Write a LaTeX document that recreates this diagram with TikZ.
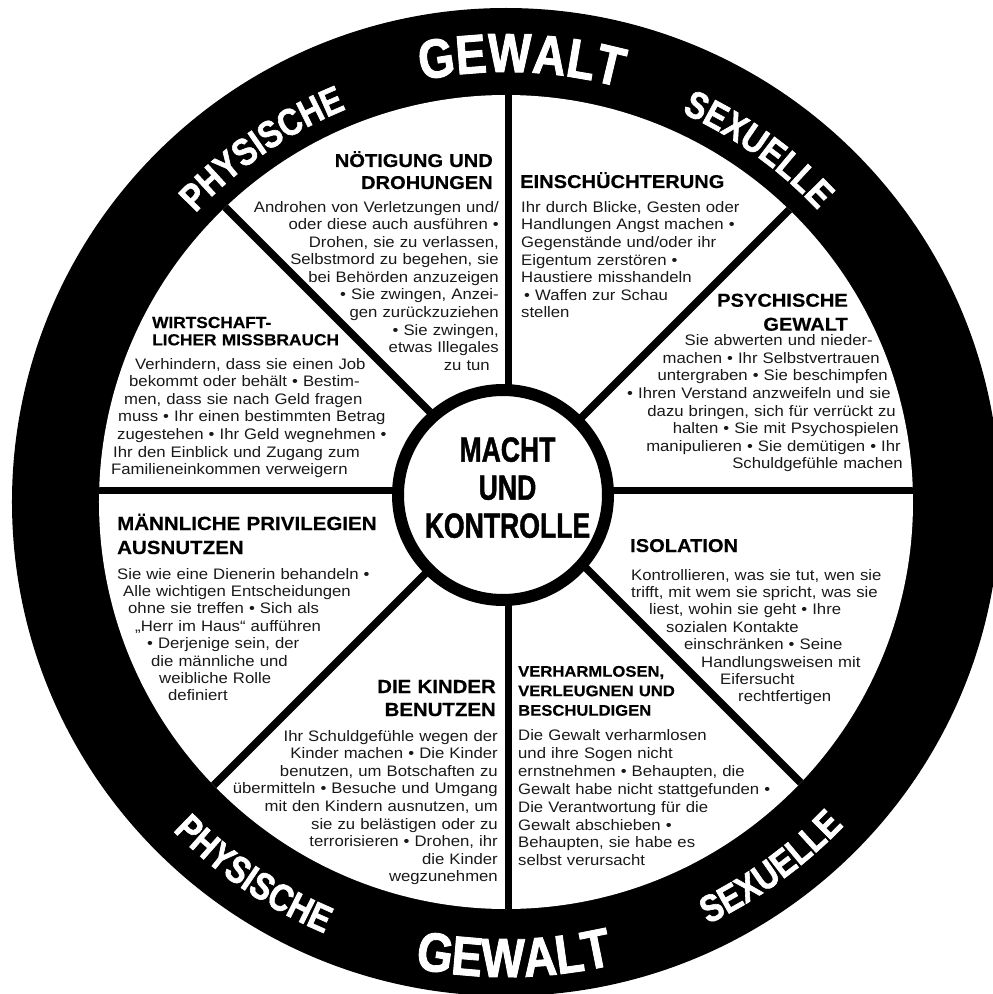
\documentclass[tikz,border=0pt]{standalone}
\usepackage{fontspec}
\setmainfont{Liberation Sans}[FakeStretch=1.1]
\newfontfamily\centerfont{Liberation Sans}[FakeStretch=0.76, FakeBold=1.2]
\newfontfamily\ringfont{Liberation Sans}[FakeStretch=0.84, FakeBold=1.6]
\newfontfamily\headfont{Liberation Sans}[FakeStretch=1.08, FakeBold=0.4]
\usetikzlibrary{decorations.text}
\newcommand\ringbig{\ringfont\bfseries\fontsize{55}{55}\selectfont}
\newcommand\ringsmall{\ringfont\bfseries\fontsize{38}{38}\selectfont}
\newcommand\rpad[1]{\hbox to #1{}}
\tikzset{
  body/.style={font=\fontsize{15.2}{17.6}\selectfont, inner sep=0pt, text width=420pt, text=black!90},
  head/.style={font=\headfont\bfseries\fontsize{18.6}{22}\selectfont, inner sep=0pt, text width=420pt},
  lft/.style={align=left, anchor=base west},
  rgt/.style={align=right, anchor=base east},
  spoke/.style={line width=7.5pt},
  ringtop/.style={decorate, decoration={text along path, text={|\ringsmall|#1}, text align=center, text color=white}},
  ringtopbig/.style={decorate, decoration={text along path, text={|\ringbig|#1}, text align=center, text color=white}},
}
\begin{document}
\begin{tikzpicture}[x=1pt,y=1pt]
\useasboundingbox (-506,-492) rectangle (487,502);
\fill[white] (-506,-492) rectangle (487,502);
\clip (-506,-492) rectangle (487,502);
% ring
\fill[black] (0,0) circle (494);
\fill[white] (0,0) circle (407);
% spokes
\coordinate (axis) at (2.5,11.5);
\begin{scope}
  \clip (0,0) circle (407);
  \foreach \a in {0,45,...,315} \draw[spoke] (axis) -- ++(\a:470);
\end{scope}
% hub
\node[circle, draw, line width=12pt, fill=white, minimum size=210pt, inner sep=0pt] (hub) at (-3,7) {};
\node[font=\centerfont\bfseries\fontsize{35}{38}\selectfont, align=center, text width=220pt, inner sep=0pt, anchor=base] (ct) at (1.5,40.3) {MACHT\\UND\\KONTROLLE};
% ring texts (top: clockwise, bottom: counterclockwise)
\path[ringtopbig=GEWALT] (128:430) arc[start angle=128, end angle=48, radius=430];
\path[ringtop=PHYSISCHE] (164.6:424) arc[start angle=164.6, end angle=84.6, radius=424];
\path[ringtop=SEXUELLE] (94.4:427) arc[start angle=94.4, end angle=14.4, radius=427];
\path[ringtopbig=GEWALT] (231:475) arc[start angle=231, end angle=311, radius=475];
\path[ringtop=PHYSISCHE] (195.9:468) arc[start angle=195.9, end angle=275.9, radius=468];
\path[ringtop=SEXUELLE] (265.9:468) arc[start angle=265.9, end angle=345.9, radius=468];
% sector texts in image coordinates
\begin{scope}[shift={(-506,502)}, yscale=-1]
\node[head, rgt] (h1) at (493,167) {NÖTIGUNG UND\\DROHUNGEN};
\node[body, rgt] (b1) at (499,212) {Androhen von Verletzungen und/\\oder diese auch ausführen •\\Drohen, sie zu verlassen,\\Selbstmord zu begehen, sie\\bei Behörden anzuzeigen\\• Sie zwingen, Anzei-\\gen zurückzuziehen\\• Sie zwingen,\\etwas Illegales\\zu tun\rpad{9pt}};

\node[head, lft] (h2) at (520,188) {EINSCHÜCHTERUNG};
\node[body, lft] (b2) at (521,212.3) {Ihr durch Blicke, Gesten oder\\Handlungen Angst machen •\\Gegenstände und/oder ihr\\Eigentum zerstören •\\Haustiere misshandeln\\\hspace*{3pt}• Waffen zur Schau\\stellen};

\node[head, rgt, font=\headfont\bfseries\fontsize{18.6}{24}\selectfont] (h3) at (848,306.7) {PSYCHISCHE\\GEWALT};
\node[body, rgt] (b3) at (903,345.7) {Sie abwerten und nieder-\rpad{30pt}\\machen • Ihr Selbstvertrauen\rpad{23pt}\\untergraben • Sie beschimpfen\rpad{15pt}\\• Ihren Verstand anzweifeln und sie\rpad{12pt}\\dazu bringen, sich für verrückt zu\rpad{7pt}\\halten • Sie mit Psychospielen\rpad{4pt}\\manipulieren • Sie demütigen • Ihr\rpad{2pt}\\Schuldgefühle machen};

\node[head, lft, font=\headfont\bfseries\fontsize{16}{17.3}\selectfont] (h4) at (152,328) {WIRTSCHAFT-\\LICHER MISSBRAUCH};
\node[body, lft] (b4) at (111,369) {\hspace*{24pt}Verhindern, dass sie einen Job\\\hspace*{18pt}bekommt oder behält • Bestim-\\\hspace*{13pt}men, dass sie nach Geld fragen\\\hspace*{7pt}muss • Ihr einen bestimmten Betrag\\\hspace*{6pt}zugestehen • Ihr Geld wegnehmen •\\\hspace*{2pt}Ihr den Einblick und Zugang zum\\Familieneinkommen verweigern};

\node[head, lft, font=\headfont\bfseries\fontsize{19}{24}\selectfont] (h5) at (117,530) {MÄNNLICHE PRIVILEGIEN\\AUSNUTZEN};
\node[body, lft, font=\fontsize{15.2}{17.4}\selectfont] (b5) at (117,579) {Sie wie eine Dienerin behandeln •\\\hspace*{6pt}Alle wichtigen Entscheidungen\\\hspace*{11pt}ohne sie treffen • Sich als\\\hspace*{18pt}„Herr im Haus“ aufführen\\\hspace*{30pt}• Derjenige sein, der\\\hspace*{34pt}die männliche und\\\hspace*{42pt}weibliche Rolle\\\hspace*{51pt}definiert};

\node[head, rgt, font=\headfont\bfseries\fontsize{18.9}{23}\selectfont] (h6) at (496,693) {DIE KINDER\\BENUTZEN};
\node[body, rgt] (b6) at (498,741) {Ihr Schuldgefühle wegen der\\Kinder machen • Die Kinder\\benutzen, um Botschaften zu\\übermitteln • Besuche und Umgang\\mit den Kindern ausnutzen, um\\sie zu belästigen oder zu\\terrorisieren • Drohen, ihr\\die Kinder\\wegzunehmen};

\node[head, lft, font=\headfont\bfseries\fontsize{15.4}{19.5}\selectfont] (h7) at (518,676.7) {VERHARMLOSEN,\\VERLEUGNEN UND\\BESCHULDIGEN};
\node[body, lft, font=\fontsize{15.2}{17.86}\selectfont] (b7) at (518,740.7) {Die Gewalt verharmlosen\\und ihre Sogen nicht\\ernstnehmen • Behaupten, die\\Gewalt habe nicht stattgefunden •\\Die Verantwortung für die\\Gewalt abschieben •\\Behaupten, sie habe es\\selbst verursacht};

\node[head, lft] (h8) at (630,552) {ISOLATION};
\node[body, lft, font=\fontsize{15.2}{17.4}\selectfont] (b8) at (631,580) {Kontrollieren, was sie tut, wen sie\\trifft, mit wem sie spricht, was sie\\\hspace*{18pt}liest, wohin sie geht • Ihre\\\hspace*{35pt}sozialen Kontakte\\\hspace*{53pt}einschränken • Seine\\\hspace*{70pt}Handlungsweisen mit\\\hspace*{89pt}Eifersucht\\\hspace*{107pt}rechtfertigen};
\end{scope}
\end{tikzpicture}
\end{document}
